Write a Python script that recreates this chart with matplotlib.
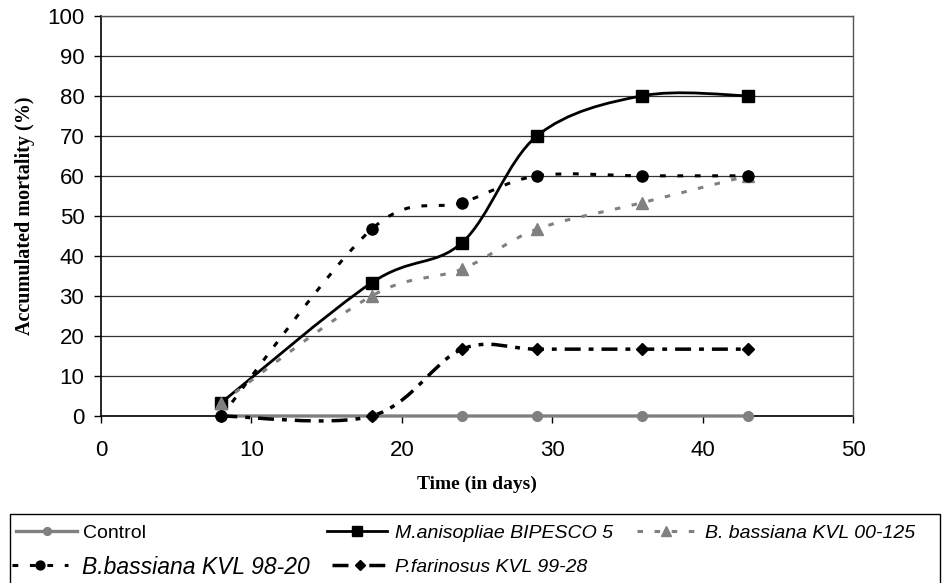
import numpy as np
import matplotlib
matplotlib.use('Agg')
import matplotlib.pyplot as plt
from matplotlib.path import Path
from matplotlib.patches import PathPatch, Rectangle
from matplotlib.lines import Line2D

plt.rcParams['font.family'] = ['Liberation Sans', 'DejaVu Sans']

# data
days = [8, 18, 24, 29, 36, 43]
control = [0, 0, 0, 0, 0, 0]
m_anisopliae = [3.33, 33.3, 43.3, 70, 80, 80]
b_bass_00125 = [3.33, 30, 36.7, 46.7, 53.3, 60]
b_bass_9820 = [0, 46.7, 53.3, 60, 60, 60]
p_farinosus = [0, 0, 16.7, 16.7, 16.7, 16.7]

labels = ['Control', 'M.anisopliae BIPESCO 5', 'B. bassiana KVL 00-125',
          'B.bassiana KVL 98-20', 'P.farinosus KVL 99-28']


def smooth_path(xs, ys):
    # excel style smoothed line: cubic bezier through the points
    pts = np.column_stack([xs, ys]).astype(float)
    n = len(pts)
    verts = [pts[0]]
    codes = [Path.MOVETO]
    for i in range(n - 1):
        p0 = pts[i - 1] if i > 0 else pts[i]
        p1 = pts[i]
        p2 = pts[i + 1]
        p3 = pts[i + 2] if i + 2 < n else pts[i + 1]
        verts += [p1 + (p2 - p0) / 6, p2 - (p3 - p1) / 6, p2]
        codes += [Path.CURVE4] * 3
    return Path(verts, codes)


styles = [
    dict(color='#808080', lw=2.4, ls='-', marker='o', ms=7),
    dict(color='black', lw=2.0, ls='-', marker='s', ms=8.5),
    dict(color='#808080', lw=2.2, ls=(0, (1.8, 3.8)), marker='^', ms=9),
    dict(color='black', lw=2.2, ls=(0, (1.9, 3.8)), marker='o', ms=8),
    dict(color='black', lw=2.5, ls=(0, (4.6, 2.3, 1.4, 2.3)), marker='D', ms=6),
]
series = [control, m_anisopliae, b_bass_00125, b_bass_9820, p_farinosus]

fig = plt.figure(figsize=(9.44, 5.83), dpi=100)
ax = fig.add_axes([101 / 944, 1 - 416 / 583, 752 / 944, 400.3 / 583])

handles = []
for vals, st in zip(series, styles):
    patch = PathPatch(smooth_path(days, vals), fill=False, edgecolor=st['color'],
                      lw=st['lw'], linestyle=st['ls'], capstyle='butt', zorder=3,
                      clip_on=False)
    ax.add_patch(patch)
    ax.plot(days, vals, linestyle='none', marker=st['marker'], ms=st['ms'],
            color=st['color'], mec=st['color'], zorder=4, clip_on=False)
    handles.append(Line2D([], [], color=st['color'], lw=st['lw'], linestyle=st['ls'],
                          marker=st['marker'], ms=st['ms'] * 0.8,
                          dash_capstyle='butt'))

ax.set_xlim(0, 50)
ax.set_ylim(0, 100)
ax.set_xticks(range(0, 51, 10))
ax.set_yticks(range(0, 101, 10))
ax.tick_params(axis='both', direction='out', labelsize=16, color='black', width=1)
ax.tick_params(axis='y', length=5, pad=7)
ax.tick_params(axis='x', length=5, pad=12)
ax.yaxis.grid(True, color='#333333', lw=0.9)
ax.set_axisbelow(True)
for side in ['top', 'right']:
    ax.spines[side].set_color('#555555')
    ax.spines[side].set_linewidth(1)
ax.spines['left'].set_linewidth(1.2)
ax.spines['bottom'].set_linewidth(1.2)
ax.spines['bottom'].set_zorder(2)

fig.text(25 / 944, 1 - 216 / 583, 'Accumulated mortality (%)', rotation=90,
         ha='center', va='center', fontsize=14.5, fontweight='bold',
         family='Liberation Serif')
fig.text(477 / 944, 1 - 484 / 583, 'Time (in days)', ha='center', va='center',
         fontsize=14, fontweight='bold', family='Liberation Serif')

# legend box, cut by the bottom of the image like the original
fig.patches.append(Rectangle((10 / 944, -0.05), 930 / 944, 0.05 + 69 / 583,
                             transform=fig.transFigure, fill=False,
                             edgecolor='black', lw=1, clip_on=False))

# (handle x, row y, handle px, gap px, fontsize)
entries = [(16, 533, 61, 6, 14), (327, 533, 60, 8, 14), (637, 533, 58, 10, 14),
           (12, 567, 56, 14, 16.5), (332, 567, 55, 8, 14)]
for i, (hx, hy, hl, gap, fs) in enumerate(entries):
    style = 'normal' if i == 0 else 'italic'
    fig.legend([handles[i]], [labels[i]], loc='center left',
               bbox_to_anchor=(hx / 944, 1 - hy / 583), frameon=False,
               borderpad=0, borderaxespad=0, numpoints=1,
               handlelength=hl * 0.72 / fs, handletextpad=gap * 0.72 / fs,
               prop={'size': fs, 'style': style, 'family': 'Liberation Sans'})

fig.savefig('out.png', dpi=100)
